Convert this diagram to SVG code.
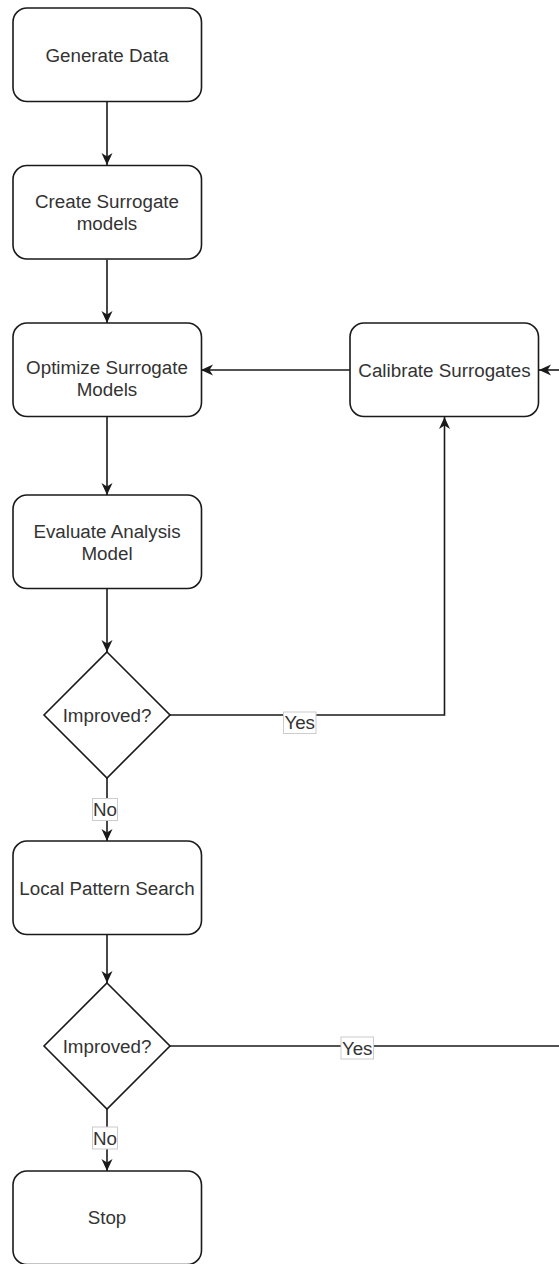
<svg xmlns="http://www.w3.org/2000/svg" width="559" height="1264" viewBox="0 0 559 1264">
  <defs>
    <style>
      .box { fill: #ffffff; stroke: #1a1a1a; stroke-width: 1.6; }
      .txt { font-family: "Liberation Sans", Arial, sans-serif; font-size: 18.8px; fill: #333333; text-anchor: middle; }
      .edge { fill: none; stroke: #1a1a1a; stroke-width: 1.6; }
      .arrow { marker-end: url(#classic); }
      .lbl { fill: #ffffff; stroke: #cccccc; stroke-width: 1; }
    </style>
    <marker id="classic" markerUnits="userSpaceOnUse" markerWidth="13" markerHeight="12" refX="12" refY="6" orient="auto" overflow="visible">
      <path d="M0,0.5 L12,6 L0,11.5 L3.5,6 Z" fill="#1a1a1a"/>
    </marker>
  </defs>

  <rect width="559" height="1264" fill="#ffffff"/>

  <!-- connectors -->
  <g id="connectors">
    <path class="edge arrow" d="M107,101.5 L107,165"/>
    <path class="edge arrow" d="M107,259.5 L107,323"/>
    <path class="edge arrow" d="M107,417 L107,495"/>
    <path class="edge arrow" d="M107,589 L107,652"/>
    <path class="edge arrow" d="M107,778 L107,841"/>
    <path class="edge arrow" d="M107,935 L107,983"/>
    <path class="edge arrow" d="M107,1109 L107,1171"/>
    <path class="edge arrow" d="M350,370 L201,370"/>
    <path class="edge arrow" d="M559,370 L539,370"/>
    <path class="edge arrow" d="M170,715 L444.5,715 L444.5,417"/>
    <path class="edge" d="M170,1046 L559,1046"/>

    <!-- edge labels -->
    <g id="label-yes-1">
      <rect class="lbl" x="283.5" y="712" width="32.5" height="21.5"/>
      <text class="txt" x="299.7" y="729">Yes</text>
    </g>
    <g id="label-no-1">
      <rect class="lbl" x="92.5" y="798.5" width="25" height="22"/>
      <text class="txt" x="105" y="816">No</text>
    </g>
    <g id="label-yes-2">
      <rect class="lbl" x="341" y="1037" width="32.5" height="22"/>
      <text class="txt" x="357.2" y="1054.5">Yes</text>
    </g>
    <g id="label-no-2">
      <rect class="lbl" x="92.5" y="1127" width="25" height="22"/>
      <text class="txt" x="105" y="1144.5">No</text>
    </g>
  </g>

  <!-- nodes -->
  <g id="generate-data">
    <rect class="box" x="13" y="8" width="188.5" height="93.5" rx="14"/>
    <text class="txt" x="107" y="62">Generate Data</text>
  </g>

  <g id="create-surrogate">
    <rect class="box" x="13" y="165.5" width="188.5" height="93.5" rx="14"/>
    <text class="txt" x="107" y="208">Create Surrogate</text>
    <text class="txt" x="107" y="229.5">models</text>
  </g>

  <g id="optimize-surrogate">
    <rect class="box" x="13" y="323" width="188.5" height="93.5" rx="14"/>
    <text class="txt" x="107" y="373.5">Optimize Surrogate</text>
    <text class="txt" x="107" y="395.5">Models</text>
  </g>

  <g id="calibrate-surrogates">
    <rect class="box" x="350" y="323" width="188.5" height="93.5" rx="14"/>
    <text class="txt" x="444.5" y="376.5">Calibrate Surrogates</text>
  </g>

  <g id="evaluate-analysis">
    <rect class="box" x="13" y="495" width="188.5" height="93.5" rx="14"/>
    <text class="txt" x="107" y="538">Evaluate Analysis</text>
    <text class="txt" x="107" y="560">Model</text>
  </g>

  <g id="improved-1">
    <polygon class="box" points="107,652 170,715 107,778 44,715"/>
    <text class="txt" x="107" y="721.5">Improved?</text>
  </g>

  <g id="local-pattern-search">
    <rect class="box" x="13" y="841" width="188.5" height="93.5" rx="14"/>
    <text class="txt" x="107" y="894.5">Local Pattern Search</text>
  </g>

  <g id="improved-2">
    <polygon class="box" points="107,983 170,1046 107,1109 44,1046"/>
    <text class="txt" x="107" y="1052.5">Improved?</text>
  </g>

  <g id="stop">
    <rect class="box" x="13" y="1171" width="188.5" height="93.5" rx="14"/>
    <text class="txt" x="107" y="1223.5">Stop</text>
  </g>
</svg>
